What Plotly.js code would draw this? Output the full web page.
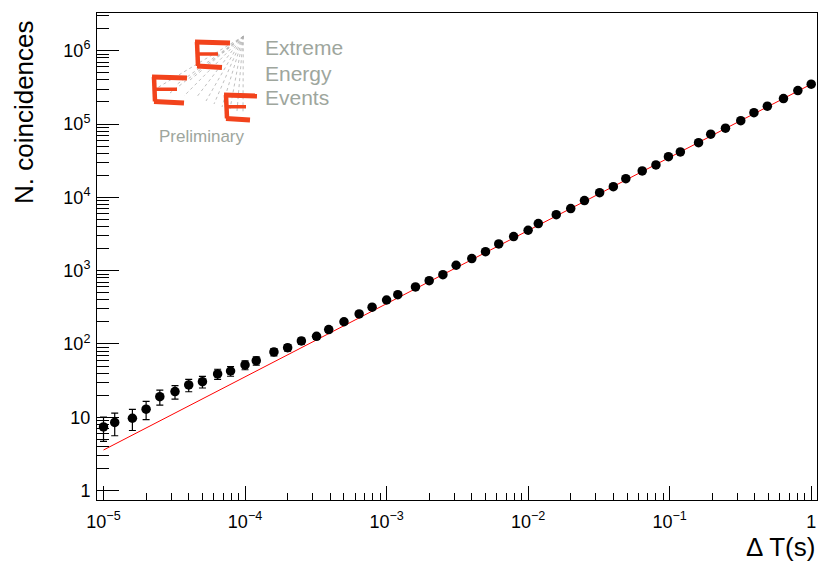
<!DOCTYPE html>
<html>
<head>
<meta charset="utf-8">
<script src="https://cdn.plot.ly/plotly-3.0.1.min.js"></script>
<style>html,body{margin:0;padding:0;background:#fff;}#chart{width:819px;height:563px;}</style>
</head>
<body>
<div id="chart"></div>
<script>
// Data
const deltaT = [1.0e-5, 1.2e-5, 1.6e-5, 2.0e-5, 2.5e-5, 3.2e-5, 4.0e-5, 5.0e-5, 6.4e-5, 7.9e-5,
  1.0e-4, 1.2e-4, 1.6e-4, 2.0e-4, 2.5e-4, 3.2e-4, 3.9e-4, 5.0e-4, 6.4e-4, 7.9e-4,
  1.0e-3, 1.2e-3, 1.6e-3, 2.0e-3, 2.5e-3, 3.1e-3, 4.0e-3, 5.0e-3, 6.2e-3, 7.9e-3,
  1.0e-2, 1.18e-2, 1.58e-2, 2.0e-2, 2.5e-2, 3.2e-2, 4.0e-2, 4.9e-2, 6.4e-2, 8.0e-2,
  0.098, 0.119, 0.16, 0.195, 0.248, 0.318, 0.394, 0.49, 0.637, 0.805, 1.0];
const coincidences = [7.4, 8.5, 9.7, 12.9, 19.1, 22.4, 27.6, 30.6, 39, 42.8,
  51.7, 59.2, 77.8, 89, 110, 127, 157, 201, 257, 317,
  398, 471, 600, 731, 882, 1185, 1460, 1817, 2311, 2912,
  3556, 4380, 5805, 7015, 9020, 11590, 13990, 17990, 22900, 27670,
  35900, 41600, 55700, 72600, 87700, 111200, 142900, 175000, 222000, 285900, 349000];
const errors = [2.7, 2.9, 3.1, 3.6, 4.4, 4.7, 5.3, 5.5, 6.2, 6.5,
  7.2, 7.7, 8.8, 9.4, 10.5, 11.3, 12.5, 14, 16, 18,
  20, 22, 24, 27, 30, 34, 38, 43, 48, 54,
  60, 66, 76, 84, 95, 108, 118, 134, 151, 166,
  189, 204, 236, 269, 296, 333, 378, 418, 471, 535, 591];
const fitX = [1e-5, 1];
const fitY = [3.58, 3.49e5];

const xTickVals = [1e-5, 1e-4, 1e-3, 1e-2, 1e-1, 1];
const xTickText = ['10<sup>\u22125</sup>', '10<sup>\u22124</sup>', '10<sup>\u22123</sup>', '10<sup>\u22122</sup>', '10<sup>\u22121</sup>', '1'];
const yTickVals = [1, 10, 100, 1e3, 1e4, 1e5, 1e6];
const yTickText = ['1', '10', '10<sup>2</sup>', '10<sup>3</sup>', '10<sup>4</sup>', '10<sup>5</sup>', '10<sup>6</sup>'];

function minors(lo, hi) {
  const out = [];
  for (let e = lo; e <= hi; e++) for (let m = 2; m <= 9; m++) out.push(m * Math.pow(10, e));
  return out;
}

// layout geometry (pixels)
const W = 819, H = 563, L = 97, R = 2, T = 13, B = 63;
const pw = W - L - R, ph = H - T - B;
const px = x => (x - L) / pw;
const py = y => (H - B - y) / ph;

const red = '#f2431c';
function seg(x0, y0, x1, y1, color, width, dash) {
  return {type: 'line', xref: 'paper', yref: 'paper', x0: px(x0), y0: py(y0), x1: px(x1), y1: py(y1),
    line: {color: color, width: width, dash: dash || 'solid'}, layer: 'above'};
}
const shapes = [];
// fan lines of the logo
const apex = [243.3, 36.3];
const fanEnds = [[157, 88], [170, 93], [184, 96], [196, 98], [206, 101], [214, 104], [222, 107], [230, 109], [237, 111], [243, 113], [190, 80], [176, 85]];
fanEnds.forEach(p => shapes.push(seg(apex[0], apex[1], p[0], p[1], '#b0b0b0', 0.8, 'dot')));
// three "E" glyphs
function E(x0, yTop, x1, yBot, midX1, botX1) {
  const yMid = (yTop + yBot) / 2;
  shapes.push(seg(x0 - 2, yTop, x1, yTop + 1, red, 5));
  shapes.push(seg(x0, yTop, x0 + 1, yBot, red, 4.5));
  shapes.push(seg(x0 + 1, yMid, midX1, yMid, red, 3.5));
  shapes.push(seg(x0, yBot, botX1, yBot + 1.5, red, 5));
}
E(197, 42, 230, 66, 218, 222);
E(154, 77, 187, 101.5, 177, 184);
E(226, 95, 257, 118.5, 246, 250);

const grey = '#9ea69d';
const annotations = [
  {text: 'Extreme', x: px(263), y: py(47), xref: 'paper', yref: 'paper', xanchor: 'left', yanchor: 'middle', showarrow: false, font: {family: 'Liberation Sans', size: 21, color: grey}},
  {text: 'Energy', x: px(263), y: py(73), xref: 'paper', yref: 'paper', xanchor: 'left', yanchor: 'middle', showarrow: false, font: {family: 'Liberation Sans', size: 21, color: grey}},
  {text: 'Events', x: px(263), y: py(97), xref: 'paper', yref: 'paper', xanchor: 'left', yanchor: 'middle', showarrow: false, font: {family: 'Liberation Sans', size: 21, color: grey}},
  {text: 'Preliminary', x: px(202), y: py(136), xref: 'paper', yref: 'paper', xanchor: 'center', yanchor: 'middle', showarrow: false, font: {family: 'Liberation Sans', size: 17, color: grey}},
  {text: 'N. coincidences', textangle: -90, x: px(24), y: py(112), xref: 'paper', yref: 'paper', xanchor: 'center', yanchor: 'middle', showarrow: false, font: {family: 'Liberation Sans', size: 26, color: '#000'}},
  {text: '\u0394 T(s)', x: px(817), y: py(547), xref: 'paper', yref: 'paper', xanchor: 'right', yanchor: 'middle', showarrow: false, font: {family: 'Liberation Sans', size: 26, color: '#000'}}
];

const traces = [
  {x: fitX, y: fitY, type: 'scatter', mode: 'lines', line: {color: '#ff0000', width: 1}, hoverinfo: 'skip'},
  {x: deltaT, y: coincidences, type: 'scatter', mode: 'markers',
   marker: {symbol: 'circle', size: 9.5, color: '#000'},
   error_y: {type: 'data', array: errors, visible: true, color: '#000', thickness: 1.2, width: 3.5}}
];

const axisCommon = {type: 'log', showgrid: false, zeroline: false, showline: true, linecolor: '#000', linewidth: 1,
  mirror: true, ticks: 'inside', tickcolor: '#000', tickwidth: 1, tickmode: 'array',
  tickfont: {family: 'Liberation Sans', size: 18, color: '#000'}};

const layout = {
  width: W, height: H, margin: {l: L, r: R, t: T, b: B}, showlegend: false,
  paper_bgcolor: '#fff', plot_bgcolor: '#fff',
  xaxis: Object.assign({}, axisCommon, {range: [-5.046, 0.041], tickvals: xTickVals, ticktext: xTickText, ticklen: 14,
    ticklabelstandoff: 5,
    minor: {ticks: 'inside', ticklen: 7, tickcolor: '#000', tickwidth: 1, tickvals: minors(-5, -1)}}),
  yaxis: Object.assign({}, axisCommon, {range: [-0.128, 6.514], tickvals: yTickVals, ticktext: yTickText, ticklen: 22,
    ticklabelstandoff: 2,
    minor: {ticks: 'inside', ticklen: 12, tickcolor: '#000', tickwidth: 1, tickvals: minors(0, 6)}}),
  shapes: shapes, annotations: annotations
};

Plotly.newPlot('chart', traces, layout, {staticPlot: true, displayModeBar: false});
</script>
</body>
</html>
